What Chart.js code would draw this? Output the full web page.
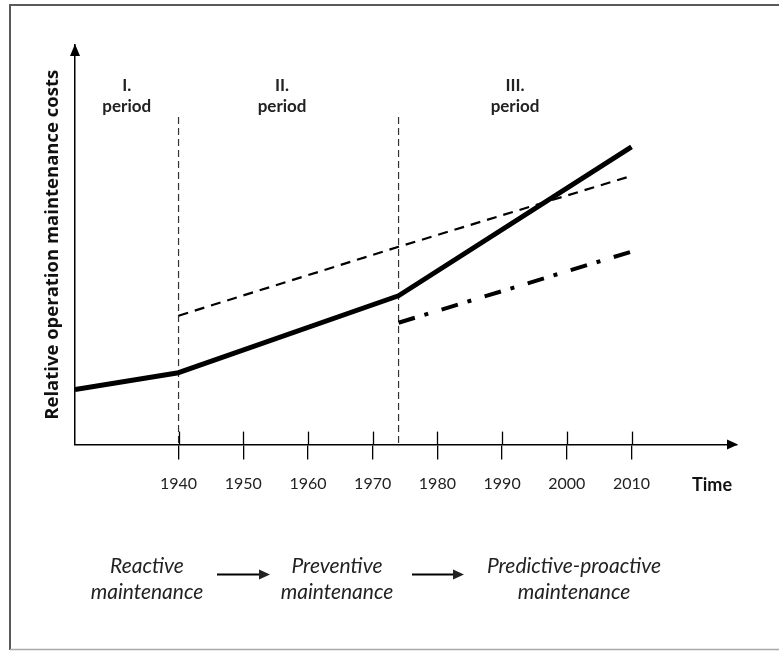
<!DOCTYPE html>
<html>
<head>
<meta charset="utf-8">
<title>Relative operation maintenance costs</title>
<script src="https://cdn.jsdelivr.net/npm/chart.js@4.4.1/dist/chart.umd.min.js"></script>
<style>
  html, body { margin: 0; padding: 0; background: #fff; }
</style>
</head>
<body>
<canvas id="costChart" width="779" height="651"></canvas>
<script>
// Tick labels on the time axis
const timeTicks = [1940, 1950, 1960, 1970, 1980, 1990, 2000, 2010];

// Actual cost curve (thick solid line)
const actualYears = [1924, 1940, 1974, 2010];
const actualCost = [13.75, 18, 37.25, 74.5];

// Upper dashed trend
const dashedYears = [1940, 1974, 2010];
const dashedCost = [32.25, 49.5, 67.25];

// Lower dash-dot trend
const dashDotYears = [1974, 2010];
const dashDotCost = [30.5, 48.3];

// Period boundaries (thin vertical dashed lines)
const periodBounds = [1940, 1974];
const boundTop = 82;

const periodNames = ['I.', 'II.', 'III.'];
const stageNames = [
    ['Reactive', 'maintenance'],
    ['Preventive', 'maintenance'],
    ['Predictive-proactive', 'maintenance']
];

const toPoints = (xs, ys) => xs.map((v, i) => ({ x: v, y: ys[i] }));

let datasets = [
    {
        data: toPoints(actualYears, actualCost),
        borderColor: '#000',
        borderWidth: 5,
        borderJoinStyle: 'round'
    },
    {
        data: toPoints(dashedYears, dashedCost),
        borderColor: '#000',
        borderWidth: 2.2,
        borderDash: [10, 7]
    },
    {
        data: toPoints(dashDotYears, dashDotCost),
        borderColor: '#000',
        borderWidth: 4,
        borderDash: [17, 10, 4, 14]
    }
];
periodBounds.forEach(b => {
    datasets.push({
        data: [{ x: b, y: boundTop }, { x: b, y: 0 }],
        borderColor: '#333',
        borderWidth: 1.2,
        borderDash: [7, 4]
    });
});

// Frame, tick marks above the axis, arrow heads and free text
const decorations = {
    id: 'decorations',
    beforeDraw(chart) {
        const c = chart.ctx;
        c.save();
        c.fillStyle = '#fff';
        c.fillRect(0, 0, chart.width, chart.height);
        c.strokeStyle = '#5a5a5a';
        c.lineWidth = 2;
        c.beginPath();
        c.moveTo(10, 650);
        c.lineTo(10, 5);
        c.lineTo(chart.width, 5);
        c.stroke();
        c.strokeStyle = '#a8a8a8';
        c.lineWidth = 1.5;
        c.beginPath();
        c.moveTo(10, 649.5);
        c.lineTo(chart.width, 649.5);
        c.stroke();
        c.restore();
    },
    afterDraw(chart) {
        const c = chart.ctx;
        const area = chart.chartArea;
        const x = chart.scales.x;
        c.save();

        // upper half of the tick marks
        c.strokeStyle = '#000';
        c.lineWidth = 1.3;
        timeTicks.forEach(t => {
            const px = Math.round(x.getPixelForValue(t)) + 0.5;
            c.beginPath();
            c.moveTo(px, area.bottom);
            c.lineTo(px, area.bottom - 13);
            c.stroke();
        });

        // axis arrow heads
        c.fillStyle = '#000';
        c.beginPath();
        c.moveTo(area.left, area.top - 1);
        c.lineTo(area.left - 5, area.top + 11);
        c.lineTo(area.left + 5, area.top + 11);
        c.closePath();
        c.fill();
        c.beginPath();
        c.moveTo(area.right + 1, area.bottom);
        c.lineTo(area.right - 10, area.bottom - 5);
        c.lineTo(area.right - 10, area.bottom + 5);
        c.closePath();
        c.fill();

        c.textAlign = 'center';
        c.textBaseline = 'middle';

        // period labels
        const labelAt = [1932, 1956, 1992];
        c.fillStyle = '#222';
        c.font = 'bold 17px Lato';
        periodNames.forEach((n, i) => {
            const px = x.getPixelForValue(labelAt[i]);
            c.fillText(n, px, 86);
            c.fillText('period', px, 106.5);
        });

        // axis name
        c.fillStyle = '#111';
        c.font = 'bold 18px Lato';
        c.fillText('Time', 712, 485);

        // maintenance stages
        const stageX = [147, 337, 574];
        c.fillStyle = '#222';
        c.font = 'italic 21px Lato';
        stageNames.forEach((lines, i) => {
            c.fillText(lines[0], stageX[i], 566.5);
            c.fillText(lines[1], stageX[i], 592.5);
        });

        // arrows between stages
        const arrows = [[217, 270], [412, 464]];
        c.strokeStyle = '#000';
        c.lineWidth = 2;
        arrows.forEach(([a, b]) => {
            c.beginPath();
            c.moveTo(a, 574.5);
            c.lineTo(b - 10, 574.5);
            c.stroke();
            c.beginPath();
            c.moveTo(b, 574.5);
            c.lineTo(b - 11, 569.5);
            c.lineTo(b - 11, 579.5);
            c.closePath();
            c.fill();
        });

        c.restore();
    }
};

let costChart = new Chart(document.getElementById('costChart'), {
    type: 'line',
    data: { datasets: datasets },
    options: {
        responsive: false,
        devicePixelRatio: 1,
        animation: false,
        elements: {
            point: { radius: 0, hoverRadius: 0 },
            line: { tension: 0, fill: false }
        },
        layout: {
            padding: { left: 37.9, right: 42, top: 45, bottom: 143.4 }
        },
        plugins: {
            legend: { display: false },
            tooltip: { enabled: false }
        },
        scales: {
            x: {
                type: 'linear',
                min: 1924,
                max: 2026.3,
                afterBuildTicks: (scale) => {
                    scale.ticks = timeTicks.map(v => ({ value: v }));
                },
                grid: {
                    display: true,
                    drawOnChartArea: false,
                    drawTicks: true,
                    tickLength: 15,
                    color: '#000',
                    lineWidth: 1.3
                },
                border: { display: true, color: '#000', width: 1.5 },
                ticks: {
                    autoSkip: false,
                    maxRotation: 0,
                    padding: 14.4,
                    color: '#222',
                    font: { family: 'Lato', size: 16 },
                    callback: (v) => String(v)
                }
            },
            y: {
                type: 'linear',
                min: 0,
                max: 100,
                grid: { display: false, drawTicks: false },
                border: { display: true, color: '#000', width: 1.5 },
                ticks: { display: false },
                title: {
                    display: true,
                    text: 'Relative operation maintenance costs',
                    color: '#111',
                    font: { family: 'Open Sans', size: 18.5, weight: 'bold' },
                    padding: { top: 4, bottom: 10.9 }
                }
            }
        }
    },
    plugins: [decorations]
});
</script>
</body>
</html>
